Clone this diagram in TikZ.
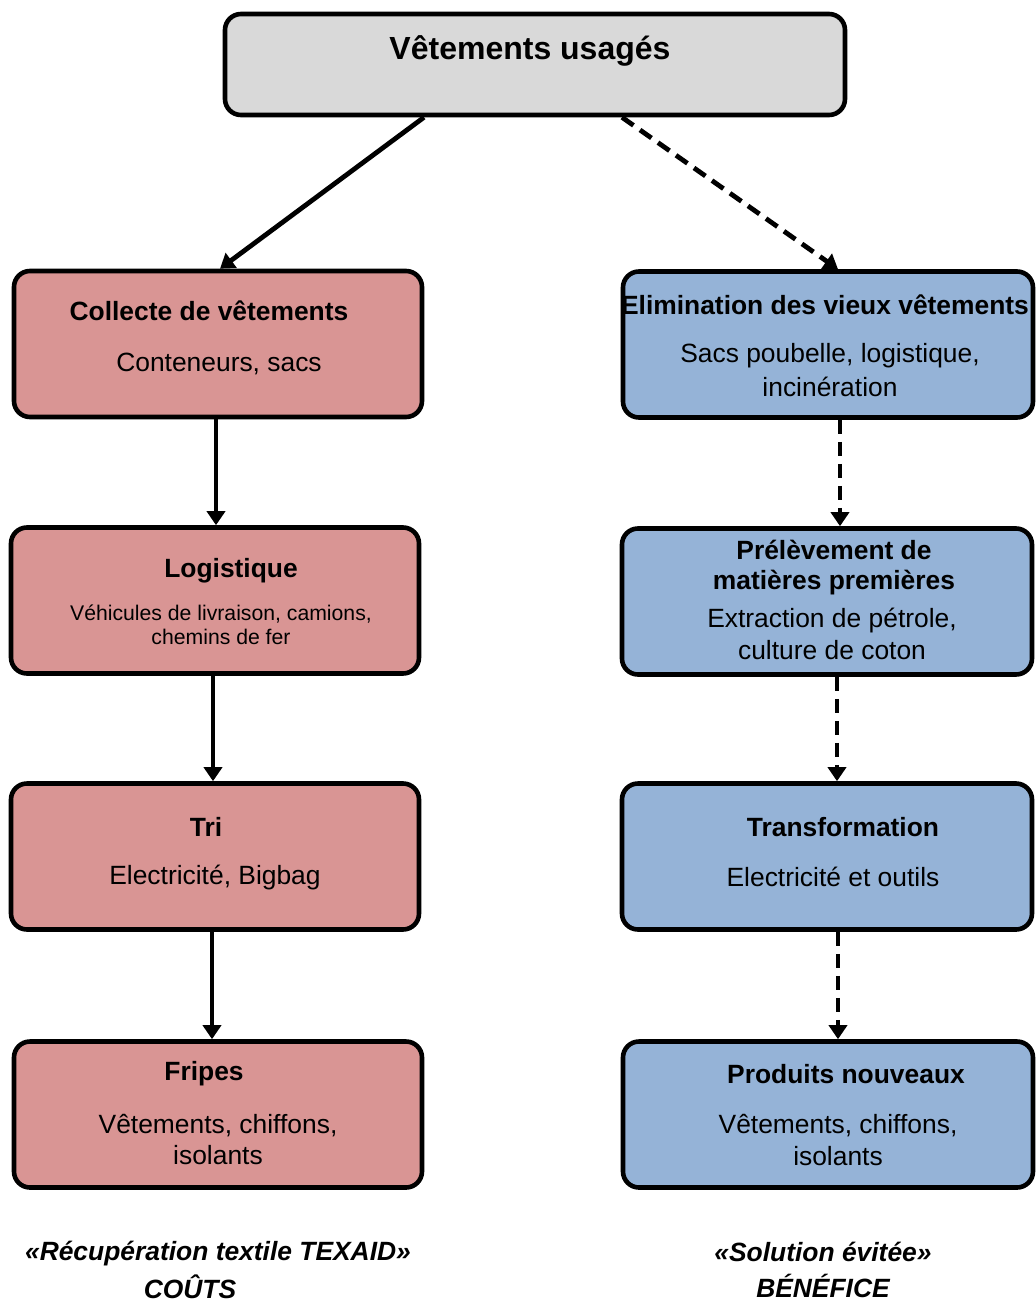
\documentclass[tikz,border=0pt]{standalone}
\usepackage{fontspec}
\setmainfont{Liberation Sans}
\usepackage{xcolor}
\usetikzlibrary{arrows.meta, positioning}
\definecolor{costred}{HTML}{D99594}
\definecolor{gainblue}{HTML}{95B3D7}
\definecolor{topgray}{HTML}{D9D9D9}
\tikzstyle{headbox} = [rectangle, rounded corners=8pt, minimum width=310pt, minimum height=50.5pt, draw=black, line width=2.3pt, fill=topgray]
\tikzstyle{costbox} = [rectangle, rounded corners=8pt, minimum width=204pt, minimum height=73pt, draw=black, line width=2.3pt, fill=costred]
\tikzstyle{gainbox} = [rectangle, rounded corners=8pt, minimum width=205pt, minimum height=73pt, draw=black, line width=2.3pt, fill=gainblue]
\tikzstyle{headtext} = [font=\fontsize{16}{19}\selectfont\bfseries]
\tikzstyle{title} = [font=\fontsize{13.2}{15}\selectfont\bfseries, align=center]
\tikzstyle{detail} = [font=\fontsize{13.2}{16}\selectfont, align=center]
\tikzstyle{smalldetail} = [font=\fontsize{10.6}{12}\selectfont, align=center]
\tikzstyle{verdict} = [font=\fontsize{13.2}{18}\selectfont\bfseries\itshape, align=center]
\tikzstyle{arrow} = [line width=2.4pt, -{Triangle[length=7pt, width=9pt]}]
\tikzstyle{dasharrow} = [arrow, dash pattern=on 7pt off 4pt]

\begin{document}
\begin{tikzpicture}[x=0.5pt, y=-0.5pt]
    \useasboundingbox (0,0) rectangle (1035,1302);

    % boxes
    \node (top) [headbox] at (535,64.5) {};
    \node (collecte) [costbox] at (218,344) {};
    \node (logistique) [costbox] at (215,600.5) {};
    \node (tri) [costbox] at (215,856.5) {};
    \node (fripes) [costbox] at (218,1114.5) {};
    \node (elim) [gainbox] at (828,344.5) {};
    \node (prel) [gainbox] at (827,601.5) {};
    \node (transf) [gainbox] at (827,856.5) {};
    \node (produits) [gainbox] at (828,1114.5) {};

    % texts
    \node (toptxt) [headtext] at (530,51) {Vêtements usagés};
    \node (collecte1) [title] at (209,311) {Collecte de vêtements};
    \node (collecte2) [detail] at (219,364) {Conteneurs, sacs};
    \node (logistique1) [title] at (231,571) {Logistique};
    \node (logistique2) [smalldetail] at (221,625) {Véhicules de livraison, camions,\\chemins de fer};
    \node (tri1) [title] at (206,827) {Tri};
    \node (tri2) [detail] at (215,878) {Electricité, Bigbag};
    \node (fripes1) [title] at (204,1074) {Fripes};
    \node (fripes2) [detail, font=\fontsize{13.2}{15.5}\selectfont] at (218,1140) {Vêtements, chiffons,\\isolants};
    \node (elim1) [title] at (825,305) {Elimination des vieux vêtements};
    \node (elim2) [detail, font=\fontsize{13.2}{17}\selectfont] at (830,370) {Sacs poubelle, logistique,\\incinération};
    \node (prel1) [title] at (834,568) {Prélèvement de\\matières premières};
    \node (prel2) [detail] at (832,634) {Extraction de pétrole,\\culture de coton};
    \node (transf1) [title] at (843,827) {Transformation};
    \node (transf2) [detail] at (833,877) {Electricité et outils};
    \node (produits1) [title] at (846,1074) {Produits nouveaux};
    \node (produits2) [detail] at (838,1140) {Vêtements, chiffons,\\isolants};

    \node (cost1) [verdict] at (218,1254) {«Récupération textile TEXAID»};
    \node (cost2) [verdict] at (190,1287) {COÛTS};
    \node (gain) [verdict] at (823,1270) {«Solution évitée»\\BÉNÉFICE};

    % connectors
    \draw [arrow] ([xshift=-55.5pt]top.south) -- ([xshift=1pt]collecte.north);
    \draw [dasharrow] ([xshift=43.5pt]top.south) -- ([xshift=5pt]elim.north);
    \draw [arrow] ([xshift=-1pt]collecte.south) -- ([xshift=-1pt]collecte.south |- logistique.north);
    \draw [arrow] ([xshift=-1pt]logistique.south) -- ([xshift=-1pt]logistique.south |- tri.north);
    \draw [arrow] ([xshift=-1.5pt]tri.south) -- ([xshift=-1.5pt]tri.south |- fripes.north);
    \draw [dasharrow] ([xshift=6pt]elim.south) -- ([xshift=6pt]elim.south |- prel.north);
    \draw [dasharrow] ([xshift=5pt]prel.south) -- ([xshift=5pt]prel.south |- transf.north);
    \draw [dasharrow] ([xshift=5.5pt]transf.south) -- ([xshift=5.5pt]transf.south |- produits.north);
\end{tikzpicture}
\end{document}
